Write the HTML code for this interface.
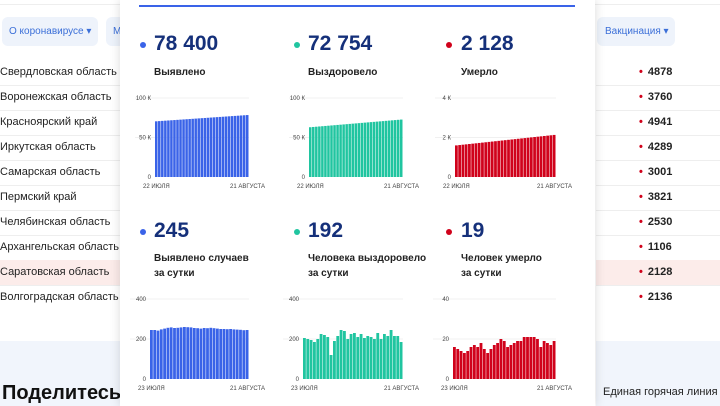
<!DOCTYPE html>
<html><head><meta charset="utf-8"><style>
body{margin:0;width:720px;height:406px;overflow:hidden;background:#fff;font-family:"Liberation Sans",sans-serif;position:relative}
.abs{position:absolute;white-space:nowrap}
.row{position:absolute;left:0;width:120px;font-size:11px;color:#222;height:25px;line-height:25px;border-bottom:1px solid #eee;white-space:nowrap;overflow:hidden}
.rrow{position:absolute;left:596px;width:124px;font-size:11px;font-weight:bold;color:#222;height:25px;line-height:25px;border-bottom:1px solid #eee}
.rrow b{color:#d0021b;margin-left:43px;margin-right:5px}
.big{position:absolute;font-size:21px;font-weight:bold;color:#15307a}
.dot{position:absolute;width:6px;height:6px;border-radius:3px}
.lbl{position:absolute;font-size:10px;font-weight:bold;color:#222;line-height:15px;white-space:nowrap}
</style></head><body>
<div class="abs" style="left:0;top:0;width:720px;height:4px;border-bottom:1px solid #eee"></div>
<div class="abs" style="left:2px;top:17px;width:96px;height:29px;background:#eef3fb;border-radius:6px;color:#3b6fd8;font-size:10px;line-height:29px;text-indent:7px;overflow:hidden">О коронавирусе ▾</div>
<div class="abs" style="left:106px;top:17px;width:30px;height:29px;background:#eef3fb;border-radius:6px;color:#3b6fd8;font-size:10px;line-height:29px;text-indent:7px">М</div>
<div class="abs" style="left:597px;top:17px;width:78px;height:29px;background:#eef3fb;border-radius:6px;color:#3b6fd8;font-size:10px;line-height:29px;text-indent:8px;overflow:hidden">Вакцинация ▾</div>
<div class="row" style="top:60px">Свердловская область</div>
<div class="row" style="top:85px">Воронежская область</div>
<div class="row" style="top:110px">Красноярский край</div>
<div class="row" style="top:135px">Иркутская область</div>
<div class="row" style="top:160px">Самарская область</div>
<div class="row" style="top:185px">Пермский край</div>
<div class="row" style="top:210px">Челябинская область</div>
<div class="row" style="top:235px">Архангельская область</div>
<div class="row" style="top:260px;background:#fcecea">Саратовская область</div>
<div class="row" style="top:285px;border:none">Волгоградская область</div>
<div class="rrow" style="top:60px"><b>•</b>4878</div>
<div class="rrow" style="top:85px"><b>•</b>3760</div>
<div class="rrow" style="top:110px"><b>•</b>4941</div>
<div class="rrow" style="top:135px"><b>•</b>4289</div>
<div class="rrow" style="top:160px"><b>•</b>3001</div>
<div class="rrow" style="top:185px"><b>•</b>3821</div>
<div class="rrow" style="top:210px"><b>•</b>2530</div>
<div class="rrow" style="top:235px"><b>•</b>1106</div>
<div class="rrow" style="top:260px;background:#fcecea"><b>•</b>2128</div>
<div class="rrow" style="top:285px;border:none"><b>•</b>2136</div>
<div class="abs" style="left:0;top:341px;width:120px;height:65px;background:#f1f5fc"></div>
<div class="abs" style="left:596px;top:341px;width:124px;height:65px;background:#f1f5fc"></div>
<div class="abs" style="left:2px;top:382px;font-size:20px;font-weight:bold;color:#111">Поделитесь</div>
<div class="abs" style="left:603px;top:386px;font-size:11px;color:#222">Единая горячая линия</div>
<div class="abs" style="left:120px;top:0;width:475px;height:406px;background:#fff;box-shadow:0 0 10px rgba(0,0,0,0.15)"></div>
<div class="abs" style="left:139px;top:5px;width:436px;height:2px;background:#3a63e8"></div>

<div class="dot" style="left:140px;top:42px;background:#3a63e8"></div><div class="big" style="left:154px;top:32px">78 400</div>
<div class="dot" style="left:294px;top:42px;background:#20c5a0"></div><div class="big" style="left:308px;top:32px">72 754</div>
<div class="dot" style="left:446px;top:42px;background:#d0021b"></div><div class="big" style="left:461px;top:32px">2 128</div>
<div class="lbl" style="left:154px;top:65px">Выявлено</div>
<div class="lbl" style="left:308px;top:65px">Выздоровело</div>
<div class="lbl" style="left:461px;top:65px">Умерло</div>
<div class="dot" style="left:140px;top:229px;background:#3a63e8"></div><div class="big" style="left:154px;top:219px">245</div>
<div class="dot" style="left:294px;top:229px;background:#20c5a0"></div><div class="big" style="left:308px;top:219px">192</div>
<div class="dot" style="left:446px;top:229px;background:#d0021b"></div><div class="big" style="left:461px;top:219px">19</div>
<div class="lbl" style="left:154px;top:251px">Выявлено случаев<br>за сутки</div>
<div class="lbl" style="left:308px;top:251px">Человека выздоровело<br>за сутки</div>
<div class="lbl" style="left:461px;top:251px">Человек умерло<br>за сутки</div>
<svg id="s" class="abs" style="left:0;top:0" width="720" height="406" font-family="Liberation Sans" font-size="6" fill="#444"></svg>
<script>
var s=document.getElementById('s'),h='';
function chart(x0,x1,yb,yt,max,ticks,vals,col,d1,d2){
 var ym=(yb+yt)/2;
 h+='<line x1="'+(x0-20)+'" x2="'+x1+'" y1="'+yt+'" y2="'+yt+'" stroke="#f0f0f0"/>';
 h+='<line x1="'+(x0-20)+'" x2="'+x1+'" y1="'+ym+'" y2="'+ym+'" stroke="#f0f0f0"/>';
 h+='<text x="'+(x0-4)+'" y="'+(yt+2)+'" text-anchor="end">'+ticks[0]+'</text>';
 h+='<text x="'+(x0-4)+'" y="'+(ym+2)+'" text-anchor="end">'+ticks[1]+'</text>';
 h+='<text x="'+(x0-4)+'" y="'+(yb+2)+'" text-anchor="end">0</text>';
 var n=vals.length,w=(x1-x0)/n;
 for(var i=0;i<n;i++){var hh=vals[i]/max*(yb-yt);
  h+='<rect x="'+(x0+i*w).toFixed(2)+'" y="'+(yb-hh).toFixed(2)+'" width="'+(w-0.5).toFixed(2)+'" height="'+hh.toFixed(2)+'" fill="'+col+'"/>';}
 h+='<text x="'+(x0-12)+'" y="'+(yb+11)+'">'+d1+'</text>';
 h+='<text x="'+(x1+16)+'" y="'+(yb+11)+'" text-anchor="end">'+d2+'</text>';
}
function lin(a,b,n){var r=[];for(var i=0;i<n;i++)r.push(a+(b-a)*i/(n-1));return r;}
chart(155,249,177,98,100,['100 К','50 К'],lin(70.5,78.4,31),'#3a63e8','22 ИЮЛЯ','21 АВГУСТА');
chart(309,403,177,98,100,['100 К','50 К'],lin(63,72.7,31),'#20c5a0','22 ИЮЛЯ','21 АВГУСТА');
chart(455,556,177,98,4,['4 К','2 К'],lin(1.6,2.13,31),'#d0021b','22 ИЮЛЯ','21 АВГУСТА');
chart(150,249,379,299,400,['400','200'],[245,245,242,248,252,256,258,255,256,258,260,259,258,255,254,252,255,254,256,254,252,250,250,249,250,248,247,246,244,245],'#3a63e8','23 ИЮЛЯ','21 АВГУСТА');
chart(303,403,379,299,400,['400','200'],[205,200,195,185,200,225,220,210,120,190,215,245,240,200,225,230,210,225,205,215,210,200,230,200,225,215,245,215,215,185],'#20c5a0','23 ИЮЛЯ','21 АВГУСТА');
chart(453,556,379,299,40,['40','20'],[16,15,14,13,14,16,17,16,18,15,13,15,17,18,20,19,16,17,18,19,19,21,21,21,21,20,16,19,18,17,19],'#d0021b','23 ИЮЛЯ','21 АВГУСТА');
s.innerHTML=h;
</script>
</body></html>
